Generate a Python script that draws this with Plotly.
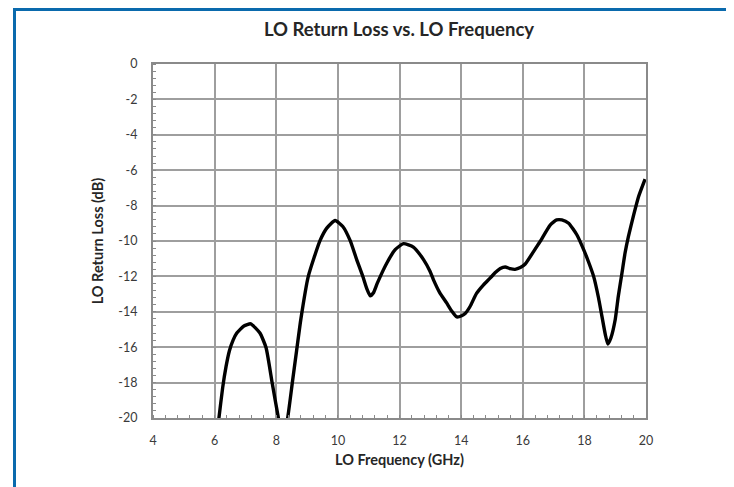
import plotly.graph_objects as go

freq_ghz = [6.0, 6.14, 6.26, 6.37, 6.48, 6.6, 6.72, 6.95, 7.17, 7.47, 7.67, 7.87, 8.07, 8.22,
            8.37, 8.53, 8.66, 8.8, 9.04, 9.42, 9.64, 9.91, 10.16, 10.4, 10.61, 10.81, 10.94,
            11.05, 11.15, 11.28, 11.59, 11.86, 12.13, 12.45, 12.78, 12.99, 13.1, 13.3, 13.53,
            13.7, 13.86, 14.02, 14.13, 14.29, 14.5, 14.72, 14.94, 15.1, 15.27, 15.43, 15.59,
            15.75, 15.92, 16.08, 16.35, 16.56, 16.89, 17.1, 17.27, 17.49, 17.76, 17.98, 18.13,
            18.3, 18.46, 18.57, 18.68, 18.76, 18.86, 19.0, 19.1, 19.22, 19.32, 19.43, 19.6,
            19.76, 19.97]
return_loss_db = [-22.2, -20.0, -18.3, -17.1, -16.2, -15.6, -15.2, -14.8, -14.68, -15.2, -16.03,
                  -18.04, -20.0, -21.2, -20.0, -17.9, -16.2, -14.4, -12.0, -9.98, -9.27, -8.84,
                  -9.18, -9.98, -11.05, -12.0, -12.7, -13.1, -12.94, -12.38, -11.24, -10.49,
                  -10.15, -10.34, -11.05, -11.71, -12.18, -12.9, -13.5, -13.97, -14.29, -14.22,
                  -14.1, -13.7, -12.96, -12.49, -12.1, -11.8, -11.56, -11.47, -11.56, -11.6,
                  -11.5, -11.3, -10.6, -10.04, -9.1, -8.81, -8.81, -9.0, -9.66, -10.5, -11.16,
                  -12.0, -13.22, -14.26, -15.29, -15.82, -15.48, -14.45, -13.13, -11.81, -10.68,
                  -9.74, -8.52, -7.48, -6.5]

x_ticks = [4, 6, 8, 10, 12, 14, 16, 18, 20]
y_ticks = [0, -2, -4, -6, -8, -10, -12, -14, -16, -18, -20]

OFF = 8  # page body margin
W, H = 734 - OFF, 487 - OFF
L, T = 153 - OFF, 64 - OFF
R, B = W - (646 - OFF), H - (418 - OFF)
pw, ph = W - L - R, H - T - B

fig = go.Figure()
fig.add_trace(go.Scatter(x=freq_ghz, y=return_loss_db, mode="lines",
                         line=dict(color="black", width=3.4, shape="spline", smoothing=0.5),
                         showlegend=False, hoverinfo="x+y"))

font_family = "Lato, 'Open Sans', sans-serif"
grid_col = "#9e9e9e"
axis_common = dict(showgrid=True, gridcolor=grid_col, gridwidth=1.6, showline=True,
                   linecolor="#8a8a8a", linewidth=2.2, mirror=True, zeroline=False,
                   ticks="", tickfont=dict(family=font_family, size=12.5, color="#3a3a3a"))

fig.update_xaxes(range=[4, 20], tickvals=x_ticks, ticktext=[str(v) for v in x_ticks],
                 title=dict(text="<b>LO Frequency (GHz)</b>", standoff=8,
                            font=dict(family=font_family, size=14.5, color="#262626")),
                 minor=dict(ticks="inside", tick0=4, dtick=0.4, ticklen=3, tickwidth=1,
                            tickcolor="#8a8a8a", showgrid=False),
                 ticklabelstandoff=10,
                 **axis_common)
fig.update_yaxes(range=[-20, 0], tickvals=y_ticks, ticktext=[str(v) for v in y_ticks],
                 title=dict(text="<b>LO Return Loss (dB)</b>", standoff=11,
                            font=dict(family=font_family, size=14.5, color="#262626")),
                 minor=dict(ticks="inside", tick0=0, dtick=0.4, ticklen=3, tickwidth=1,
                            tickcolor="#8a8a8a", showgrid=False),
                 ticklabelstandoff=11,
                 **axis_common)

blue = "#0a6aad"
def px_x(p):
    return (p - OFF - L) / pw
def px_y(p):
    return (H - B - (p - OFF)) / ph

fig.update_layout(
    width=W, height=H,
    margin=dict(l=L, r=R, t=T, b=B, autoexpand=False),
    paper_bgcolor="white", plot_bgcolor="white",
    title=dict(text="<b>LO Return Loss vs. LO Frequency</b>", x=px_x(399), xanchor="center",
               y=1 - (30 - OFF) / H, yanchor="middle", xref="paper",
               font=dict(family=font_family, size=18.5, color="#262626")),
    shapes=[
        dict(type="line", xref="paper", yref="paper", x0=px_x(14.5), x1=px_x(14.5),
             y0=px_y(8), y1=px_y(H + OFF + 5), line=dict(color=blue, width=3), layer="above"),
        dict(type="line", xref="paper", yref="paper", x0=px_x(13), x1=px_x(W + OFF + 5),
             y0=px_y(9.5), y1=px_y(9.5), line=dict(color=blue, width=3), layer="above"),
    ],
)

fig.write_html("out.html")
